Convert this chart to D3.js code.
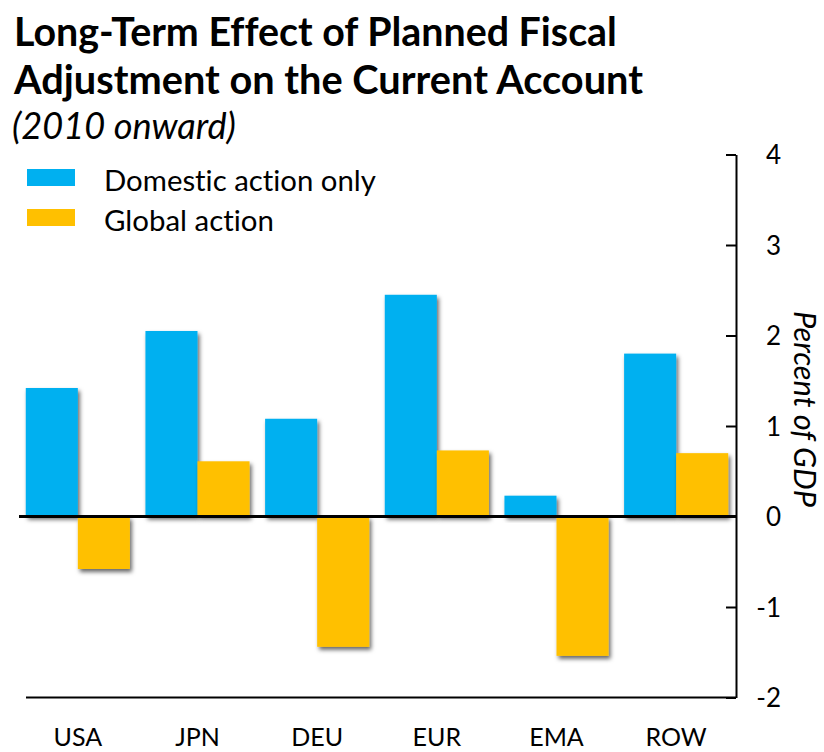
<!DOCTYPE html>
<html>
<head>
<meta charset="utf-8">
<script src="https://cdn.jsdelivr.net/npm/d3@7"></script>
<style>
  html, body { margin: 0; padding: 0; background: #fff; }
  svg { display: block; font-family: Lato, "Open Sans", sans-serif; font-variant-ligatures: none; }
</style>
</head>
<body>
<svg id="chart" width="824" height="752"></svg>
<script>
// Long-term current-account effect of planned fiscal adjustment, percent of GDP
const regions = ["USA", "JPN", "DEU", "EUR", "EMA", "ROW"];
const domesticAction = [1.42, 2.05, 1.08, 2.45, 0.23, 1.80];
const globalAction = [-0.58, 0.61, -1.44, 0.73, -1.54, 0.70];
const seriesNames = ["Domestic action only", "Global action"];
const seriesColors = ["#00B0F0", "#FFC000"];
const yTicks = [4, 3, 2, 1, 0, -1, -2];

const titleLines = ["Long-Term Effect of Planned Fiscal", "Adjustment on the Current Account"];
const subtitle = "(2010 onward)";
const axisTitle = "Percent of GDP";

const svg = d3.select("#chart");

// shrink/grow a text's font so it spans the given width
function fitWidth(sel, width) {
  const node = sel.node();
  const fs = parseFloat(sel.attr("font-size"));
  const w = node.getComputedTextLength();
  sel.attr("font-size", (fs * width / w).toFixed(2));
}

// soft drop shadow for the bars
const defs = svg.append("defs");
const shadow = defs.append("filter").attr("id", "barShadow")
  .attr("x", "-20%").attr("y", "-20%").attr("width", "150%").attr("height", "150%");
shadow.append("feDropShadow")
  .attr("dx", 2).attr("dy", 3).attr("stdDeviation", 2.2)
  .attr("flood-color", "#000").attr("flood-opacity", 0.6);

// scales
const y = d3.scaleLinear().domain([-2, 4]).range([697.5, 154.5]);
const x = d3.scaleBand().domain(regions).range([18, 736])
  .paddingInner(0.13).paddingOuter(0.065);
const xs = d3.scaleBand().domain([0, 1]).range([0, x.bandwidth()]);

const rows = regions.map((r, i) => ({ region: r, values: [domesticAction[i], globalAction[i]] }));

// bars
const groups = svg.append("g").selectAll("g").data(rows).join("g")
  .attr("transform", d => `translate(${x(d.region)},0)`);
groups.selectAll("rect")
  .data(d => d.values.map((v, k) => ({ v, k })))
  .join("rect")
  .attr("x", d => xs(d.k))
  .attr("width", xs.bandwidth())
  .attr("y", d => y(Math.max(0, d.v)))
  .attr("height", d => Math.abs(y(d.v) - y(0)))
  .attr("fill", d => seriesColors[d.k])
  .attr("filter", "url(#barShadow)");

// zero line
svg.append("line")
  .attr("x1", 19).attr("x2", 736)
  .attr("y1", y(0)).attr("y2", y(0))
  .attr("stroke", "#000").attr("stroke-width", 3);

// bottom axis line and category labels
svg.append("line")
  .attr("x1", 26).attr("x2", 736)
  .attr("y1", y(-2)).attr("y2", y(-2))
  .attr("stroke", "#000").attr("stroke-width", 2);

const xAxis = svg.append("g")
  .attr("transform", `translate(0,${y(-2)})`)
  .call(d3.axisBottom(x).tickSize(0).tickPadding(31));
xAxis.select(".domain").remove();
xAxis.selectAll("text")
  .attr("font-size", 25).attr("fill", "#000")
  .attr("font-family", "Lato, sans-serif");

// right value axis, ticks pointing inward
const yAxis = svg.append("g")
  .attr("transform", "translate(736,0)")
  .call(d3.axisRight(y).tickValues(yTicks).tickFormat(d3.format("d"))
    .tickSizeInner(-10).tickSizeOuter(0).tickPadding(0));
yAxis.select(".domain").attr("stroke", "#000").attr("stroke-width", 2);
yAxis.selectAll(".tick line").attr("stroke", "#000").attr("stroke-width", 2);
yAxis.selectAll("text")
  .attr("text-anchor", "end").attr("x", 45).attr("dy", "0.36em")
  .attr("font-size", 26).attr("fill", "#000")
  .attr("font-family", "Lato, sans-serif")
  .text(d => d < 0 ? "-" + Math.abs(d) : d);

// axis title, rotated to read downward
const at = svg.append("text")
  .attr("transform", "translate(794,409) rotate(90)")
  .attr("text-anchor", "middle")
  .attr("font-style", "italic").attr("font-size", 26)
  .text(axisTitle);
fitWidth(at, 196);

// title block
titleLines.forEach((line, i) => {
  const t = svg.append("text")
    .attr("x", 14).attr("y", [46, 94][i])
    .attr("font-weight", 700).attr("font-size", 36)
    .text(line);
  fitWidth(t, [603, 629][i]);
});
const st = svg.append("text")
  .attr("x", 12).attr("y", 139)
  .attr("font-style", "italic").attr("font-size", 28)
  .text(subtitle);
fitWidth(st, 224);

// legend
const legend = svg.append("g");
seriesNames.forEach((name, i) => {
  legend.append("rect")
    .attr("x", 27).attr("y", 169 + i * 40)
    .attr("width", 48).attr("height", 17)
    .attr("fill", seriesColors[i]);
  const t = legend.append("text")
    .attr("x", 104).attr("y", 191 + i * 40)
    .attr("font-size", 26)
    .text(name);
  fitWidth(t, [272, 170][i]);
});
</script>
</body>
</html>
